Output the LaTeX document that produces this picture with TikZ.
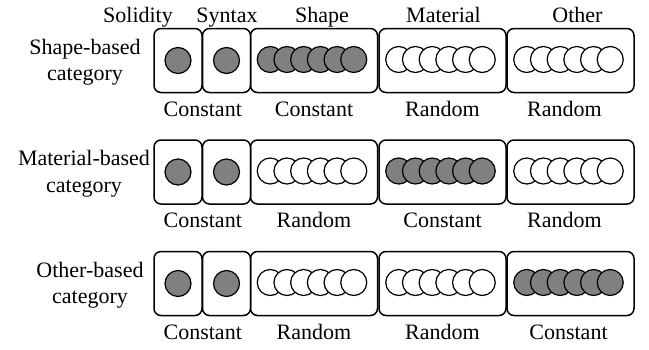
\documentclass[tikz,border=0pt]{standalone}
\usepackage{fontspec}
\setmainfont{Liberation Serif}
\definecolor{dotgray}{RGB}{128,128,128}
\tikzset{
  slot/.style={draw, line width=1.5pt, rounded corners=7pt, minimum height=64pt, inner sep=0pt},
  narrowslot/.style={slot, minimum width=48pt},
  wideslot/.style={slot, minimum width=127pt},
  dot/.style={circle, draw, line width=1.2pt, minimum size=26pt, inner sep=0pt},
  constdot/.style={dot, fill=dotgray},
  randdot/.style={dot, fill=white},
  lbl/.style={font=\fontsize{22}{26.5}\selectfont, inner sep=0pt},
}

\begin{document}
\begin{tikzpicture}[x=1pt, y=-1pt]
  \useasboundingbox (0,0) rectangle (649,349);
  % column titles
  \node[lbl, anchor=base] (solidity) at (138,22) {Solidity};
  \node[lbl, anchor=base] (syntax)   at (227,22) {Syntax};
  \node[lbl, anchor=base] (shape)    at (322,22) {Shape};
  \node[lbl, anchor=base] (material) at (443.5,22) {Material};
  \node[lbl, anchor=base] (other)    at (577.5,22) {Other};

  % shape-based row
  \node[lbl, align=center] (shCat) at (85,62) {Shape-based\\category};
  \node[narrowslot] (shSol) at (178,60.5) {};
  \node[narrowslot] (shSyn) at (226.5,60.5) {};
  \node[wideslot]   (shSha) at (314,60.5) {};
  \node[wideslot]   (shMat) at (442.5,60.5) {};
  \node[wideslot]   (shOth) at (570.5,60.5) {};
  \node[constdot] (shSolDot) at (shSol) {};
  \node[constdot] (shSynDot) at (shSyn) {};
  \node[lbl, anchor=base] (shLblA) at ([yshift=-23pt]shSol.south east) {Constant};
  \node[lbl, anchor=base] (shLblB) at ([yshift=-23pt]shSha.south) {Constant};
  \node[lbl, anchor=base] (shLblC) at ([yshift=-23pt]shMat.south) {Random};
  \node[lbl, anchor=base] (shLblD) at ([xshift=-6pt,yshift=-23pt]shOth.south) {Random};

  % material-based row
  \node[lbl, align=center] (maCat) at (84,173.5) {Material-based\\category};
  \node[narrowslot] (maSol) at (178,172) {};
  \node[narrowslot] (maSyn) at (226.5,172) {};
  \node[wideslot]   (maSha) at (314,172) {};
  \node[wideslot]   (maMat) at (442.5,172) {};
  \node[wideslot]   (maOth) at (570.5,172) {};
  \node[constdot] (maSolDot) at (maSol) {};
  \node[constdot] (maSynDot) at (maSyn) {};
  \node[lbl, anchor=base] (maLblA) at ([yshift=-23pt]maSol.south east) {Constant};
  \node[lbl, anchor=base] (maLblB) at ([yshift=-23pt]maSha.south) {Random};
  \node[lbl, anchor=base] (maLblC) at ([yshift=-23pt]maMat.south) {Constant};
  \node[lbl, anchor=base] (maLblD) at ([xshift=-6pt,yshift=-23pt]maOth.south) {Random};

  % other-based row
  \node[lbl, align=center] (otCat) at (90,285) {Other-based\\category};
  \node[narrowslot] (otSol) at (178,283.5) {};
  \node[narrowslot] (otSyn) at (226.5,283.5) {};
  \node[wideslot]   (otSha) at (314,283.5) {};
  \node[wideslot]   (otMat) at (442.5,283.5) {};
  \node[wideslot]   (otOth) at (570.5,283.5) {};
  \node[constdot] (otSolDot) at (otSol) {};
  \node[constdot] (otSynDot) at (otSyn) {};
  \node[lbl, anchor=base] (otLblA) at ([yshift=-23pt]otSol.south east) {Constant};
  \node[lbl, anchor=base] (otLblB) at ([yshift=-23pt]otSha.south) {Random};
  \node[lbl, anchor=base] (otLblC) at ([yshift=-23pt]otMat.south) {Random};
  \node[lbl, anchor=base] (otLblD) at ([xshift=-2pt,yshift=-23pt]otOth.south) {Constant};

  % overlapping dots, left to right
  \foreach \slot/\kind in {shSha/constdot, shMat/randdot, shOth/randdot,
                           maSha/randdot, maMat/constdot, maOth/randdot,
                           otSha/randdot, otMat/randdot, otOth/constdot}
    \foreach \i in {0,...,5}
      \node[\kind] (\slot\i) at ([xshift={((\i-2.5)*16.7-2)*1pt}, yshift=1pt]\slot.center) {};
\end{tikzpicture}
\end{document}
